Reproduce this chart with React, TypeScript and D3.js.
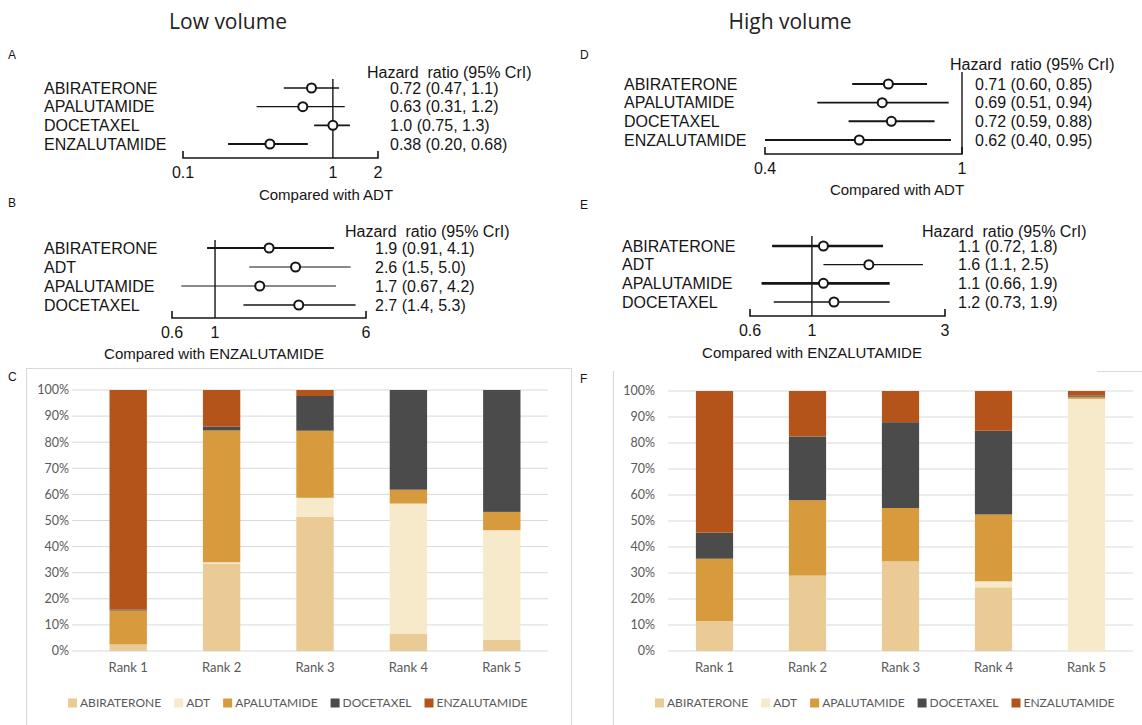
import React from "react";
import * as d3 from "d3";

// ---------- forest plots (hazard ratio, 95% CrI) ----------
const lowAdtNames = ["ABIRATERONE", "APALUTAMIDE", "DOCETAXEL", "ENZALUTAMIDE"];
const lowAdtHr = [0.72, 0.63, 1.0, 0.38];
const lowAdtLower = [0.47, 0.31, 0.75, 0.2];
const lowAdtUpper = [1.1, 1.2, 1.3, 0.68];
const lowAdtText = ["0.72 (0.47, 1.1)", "0.63 (0.31, 1.2)", "1.0 (0.75, 1.3)", "0.38 (0.20, 0.68)"];
const lowAdtTicks = [0.1, 1, 2];

const lowEnzNames = ["ABIRATERONE", "ADT", "APALUTAMIDE", "DOCETAXEL"];
const lowEnzHr = [1.9, 2.6, 1.7, 2.7];
const lowEnzLower = [0.91, 1.5, 0.67, 1.4];
const lowEnzUpper = [4.1, 5.0, 4.2, 5.3];
const lowEnzText = ["1.9 (0.91, 4.1)", "2.6 (1.5, 5.0)", "1.7 (0.67, 4.2)", "2.7 (1.4, 5.3)"];
const lowEnzTicks = [0.6, 1, 6];

const highAdtNames = ["ABIRATERONE", "APALUTAMIDE", "DOCETAXEL", "ENZALUTAMIDE"];
const highAdtHr = [0.71, 0.69, 0.72, 0.62];
const highAdtLower = [0.6, 0.51, 0.59, 0.4];
const highAdtUpper = [0.85, 0.94, 0.88, 0.95];
const highAdtText = ["0.71 (0.60, 0.85)", "0.69 (0.51, 0.94)", "0.72 (0.59, 0.88)", "0.62 (0.40, 0.95)"];
const highAdtTicks = [0.4, 1];

const highEnzNames = ["ABIRATERONE", "ADT", "APALUTAMIDE", "DOCETAXEL"];
const highEnzHr = [1.1, 1.6, 1.1, 1.2];
const highEnzLower = [0.72, 1.1, 0.66, 0.73];
const highEnzUpper = [1.8, 2.5, 1.9, 1.9];
const highEnzText = ["1.1 (0.72, 1.8)", "1.6 (1.1, 2.5)", "1.1 (0.66, 1.9)", "1.2 (0.73, 1.9)"];
const highEnzTicks = [0.6, 1, 3];

// ---------- rank probabilities (%) ----------
const ranks = ["Rank 1", "Rank 2", "Rank 3", "Rank 4", "Rank 5"];
const drugs = ["ABIRATERONE", "ADT", "APALUTAMIDE", "DOCETAXEL", "ENZALUTAMIDE"];
const yTicks = [0, 10, 20, 30, 40, 50, 60, 70, 80, 90, 100];

const lowAbiraterone = [2.5, 33.5, 51.5, 6.5, 4.3];
const lowAdt = [0, 0.5, 7.2, 50, 42];
const lowApalutamide = [13, 50.5, 25.7, 5.3, 7];
const lowDocetaxel = [0.3, 1.5, 13.3, 38.2, 46.7];
const lowEnzalutamide = [84.2, 14, 2.3, 0, 0];

const highAbiraterone = [11.5, 29, 34.5, 24.5, 0];
const highAdt = [0, 0, 0, 2.3, 97];
const highApalutamide = [24, 29, 20.5, 25.7, 0.8];
const highDocetaxel = [10, 24.5, 33, 32.2, 0.5];
const highEnzalutamide = [54.5, 17.5, 12, 15.3, 1.7];

const colors = ["#EACB95", "#F6EACB", "#D79B3D", "#4B4B4B", "#B4541A"];

const forestFont = "'Liberation Sans', Arial, sans-serif";
const chartFont = "Lato, 'Open Sans', sans-serif";

function Forest(p: any) {
  const x = d3.scaleLog().domain(p.domain).range(p.range);
  const y = d3.scalePoint<string>().domain(p.names).range([p.rowTop, p.rowBottom]);
  const t0 = x(p.ticks[0]);
  const t1 = x(p.ticks[p.ticks.length - 1]);
  return (
    <g fontFamily={forestFont} fontSize={16} fill="#151515">
      <text x={p.letterX} y={p.letterY} fontSize={12} dy="0.35em">{p.letter}</text>
      <text x={p.headerX} y={p.headerY} dy="0.35em" style={{ whiteSpace: "pre" }}>
        Hazard  ratio (95% CrI)
      </text>
      <line x1={x(1)} x2={x(1)} y1={p.refTop} y2={p.axisY} stroke="#151515" strokeWidth={1.4} />
      <path
        d={`M${t0},${p.axisY - 7}V${p.axisY}H${t1}V${p.axisY - 7}`}
        fill="none"
        stroke="#151515"
        strokeWidth={1.6}
      />
      {p.ticks.map((t: number) => (
        <text key={t} x={x(t)} y={p.axisY + 14} dy="0.35em" textAnchor="middle">
          {String(t)}
        </text>
      ))}
      <text x={p.captionX} y={p.captionY} dy="0.35em" textAnchor="middle" fontSize={15}>
        {p.caption}
      </text>
      {p.names.map((n: string, i: number) => (
        <g key={n}>
          <text x={p.labelX} y={y(n)} dy="0.35em">{n}</text>
          <text x={p.valueX} y={y(n)} dy="0.35em">{p.text[i]}</text>
          <line
            x1={x(p.lower[i])}
            x2={x(p.upper[i])}
            y1={y(n)}
            y2={y(n)}
            stroke="#151515"
            strokeWidth={p.widths[i]}
          />
          <circle cx={x(p.hr[i])} cy={y(n)} r={4.5} fill="#fff" stroke="#151515" strokeWidth={2} />
        </g>
      ))}
    </g>
  );
}

let measureCtx: CanvasRenderingContext2D | null = null;
function textWidth(s: string, font: string) {
  if (!measureCtx) measureCtx = document.createElement("canvas").getContext("2d");
  if (!measureCtx) return s.length * 7;
  measureCtx.font = font;
  return measureCtx.measureText(s).width;
}

function Stacked(p: any) {
  const rows = ranks.map((r, i) => {
    const o: any = { rank: r };
    drugs.forEach((d, j) => (o[d] = p.series[j][i]));
    return o;
  });
  const stack = d3.stack<any>().keys(drugs)(rows);
  const x = d3.scaleBand().domain(ranks).range(p.xRange).paddingInner(0.6).paddingOuter(0.3);
  const y = d3.scaleLinear().domain([0, 100]).range(p.yRange);
  const legendFont = `12px Lato`;
  let lx = p.legendX;
  const legendPos = drugs.map((d) => {
    const cur = lx;
    lx += 9 + 3 + textWidth(d, legendFont) + 13;
    return cur;
  });
  return (
    <g fontFamily={chartFont} fill="#595959">
      <text x={p.letterX} y={p.letterY} fontSize={12} dy="0.35em" fontFamily={forestFont} fill="#151515">
        {p.letter}
      </text>
      {yTicks.map((t) => (
        <g key={t}>
          <line x1={p.gridX[0]} x2={p.gridX[1]} y1={y(t)} y2={y(t)} stroke="#d9d9d9" strokeWidth={1} />
          <text x={p.labelX} y={y(t)} dy="0.35em" textAnchor="end" fontSize={12.5}>
            {t}%
          </text>
        </g>
      ))}
      {stack.map((s, j) => (
        <g key={drugs[j]} fill={colors[j]}>
          {s.map((d: any, i: number) => (
            <rect
              key={i}
              x={x(ranks[i])}
              width={x.bandwidth()}
              y={y(d[1])}
              height={Math.max(0, y(d[0]) - y(d[1]))}
            />
          ))}
        </g>
      ))}
      {ranks.map((r) => (
        <text key={r} x={(x(r) as number) + x.bandwidth() / 2} y={p.rankY} dy="0.35em" textAnchor="middle" fontSize={13}>
          {r}
        </text>
      ))}
      {drugs.map((d, j) => (
        <g key={d}>
          <rect x={legendPos[j]} y={p.legendY - 4.5} width={9} height={9} fill={colors[j]} />
          <text x={legendPos[j] + 12} y={p.legendY} dy="0.35em" fontSize={12}>
            {d}
          </text>
        </g>
      ))}
    </g>
  );
}

export default function App() {
  return (
    <div style={{ position: "absolute", left: 0, top: 0 }}>
      <svg width={1142} height={725} style={{ display: "block", background: "#fff" }}>
        <text x={228} y={22} dy="0.35em" textAnchor="middle" fontFamily="'Open Sans', sans-serif" fontSize={21} fill="#222">
          Low volume
        </text>
        <text x={790} y={22} dy="0.35em" textAnchor="middle" fontFamily="'Open Sans', sans-serif" fontSize={21} fill="#222">
          High volume
        </text>

        <Forest
          letter="A" letterX={8} letterY={55}
          names={lowAdtNames} hr={lowAdtHr} lower={lowAdtLower} upper={lowAdtUpper} text={lowAdtText}
          ticks={lowAdtTicks} domain={[0.1, 2]} range={[183, 378]}
          rowTop={88} rowBottom={144} labelX={44} valueX={390} headerX={367} headerY={72}
          axisY={158} refTop={79} caption="Compared with ADT" captionX={326} captionY={195}
          widths={[1.6, 1.3, 1.6, 1.8]}
        />
        <Forest
          letter="B" letterX={8} letterY={203}
          names={lowEnzNames} hr={lowEnzHr} lower={lowEnzLower} upper={lowEnzUpper} text={lowEnzText}
          ticks={lowEnzTicks} domain={[0.6, 6]} range={[172, 366]}
          rowTop={248} rowBottom={305} labelX={44} valueX={375} headerX={345} headerY={231}
          axisY={318} refTop={240} caption="Compared with ENZALUTAMIDE" captionX={214} captionY={354}
          widths={[2, 1.2, 1.2, 1.4]}
        />
        <Forest
          letter="D" letterX={580} letterY={55}
          names={highAdtNames} hr={highAdtHr} lower={highAdtLower} upper={highAdtUpper} text={highAdtText}
          ticks={highAdtTicks} domain={[0.4, 1]} range={[765, 962]}
          rowTop={84} rowBottom={140} labelX={624} valueX={975} headerX={950} headerY={64}
          axisY={154} refTop={72} caption="Compared with ADT" captionX={897} captionY={190}
          widths={[2, 1.8, 2, 2.2]}
        />
        <Forest
          letter="E" letterX={580} letterY={205}
          names={highEnzNames} hr={highEnzHr} lower={highEnzLower} upper={highEnzUpper} text={highEnzText}
          ticks={highEnzTicks} domain={[0.6, 3]} range={[750, 945]}
          rowTop={246} rowBottom={302} labelX={622} valueX={958} headerX={922} headerY={231}
          axisY={316} refTop={236} caption="Compared with ENZALUTAMIDE" captionX={812} captionY={353}
          widths={[2.4, 1.3, 2.6, 1.3]}
        />

        {/* panel frames */}
        <rect x={26.5} y={368.5} width={545} height={400} fill="none" stroke="#d9d9d9" />
        <line x1={613.5} x2={613.5} y1={371} y2={725} stroke="#d9d9d9" />
        <line x1={1097} x2={1142} y1={371.5} y2={371.5} stroke="#d9d9d9" />

        <Stacked
          letter="C" letterX={8} letterY={377}
          series={[lowAbiraterone, lowAdt, lowApalutamide, lowDocetaxel, lowEnzalutamide]}
          xRange={[81.5, 548.5]} gridX={[72, 548]} yRange={[651, 390]} labelX={69}
          rankY={667} legendX={68} legendY={703}
        />
        <Stacked
          letter="F" letterX={580} letterY={379}
          series={[highAbiraterone, highAdt, highApalutamide, highDocetaxel, highEnzalutamide]}
          xRange={[668, 1133]} gridX={[668, 1133]} yRange={[651, 391]} labelX={655}
          rankY={667} legendX={655} legendY={703}
        />
      </svg>
    </div>
  );
}
